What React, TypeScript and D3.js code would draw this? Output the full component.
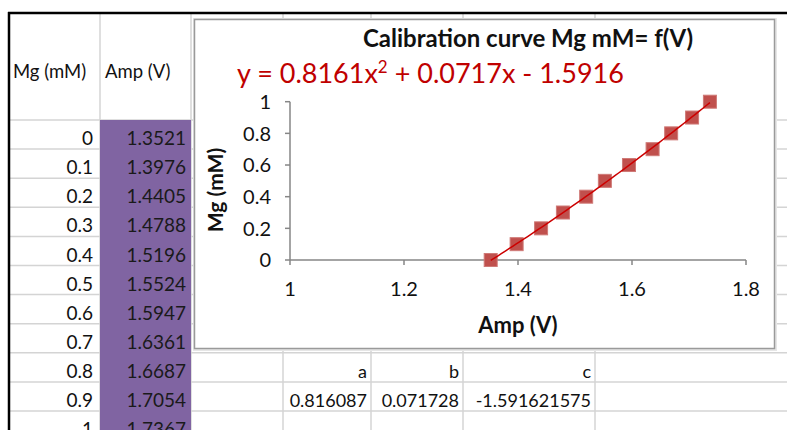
import React from 'react';
import * as d3 from 'd3';

// spreadsheet columns A/B
const mgValues = [0, 0.1, 0.2, 0.3, 0.4, 0.5, 0.6, 0.7, 0.8, 0.9, 1];
const ampValues = [1.3521, 1.3976, 1.4405, 1.4788, 1.5196, 1.5524, 1.5947, 1.6361, 1.6687, 1.7054, 1.7367];
const headers = ['Mg (mM)', 'Amp (V)'];

// fit coefficients shown below the chart
const coefNames = ['a', 'b', 'c'];
const coefTexts = ['0.816087', '0.071728', '-1.591621575'];
const coefs = [0.8161, 0.0717, -1.5916];

const xTicks = [1, 1.2, 1.4, 1.6, 1.8];
const yTicks = [0, 0.2, 0.4, 0.6, 0.8, 1];

const FONT = 'Lato, "Open Sans", sans-serif';
const W = 787, H = 430;

export default function App() {
  const x = d3.scaleLinear().domain([1, 1.8]).range([290, 746]);
  const y = d3.scaleLinear().domain([0, 1]).range([260, 101.7]);

  // grid geometry of the sheet
  const colEdges = [8, 100, 191, 283, 371, 463, 595];
  const headerBottom = 120;
  const rowH = 29.1;
  const rowTop = (i: number) => headerBottom + i * rowH;

  const fit = (v: number) => coefs[0] * v * v + coefs[1] * v + coefs[2];
  const xs = d3.range(0, 61).map((i) => ampValues[0] + (i / 60) * (ampValues[ampValues.length - 1] - ampValues[0]));
  const trend = d3.line<number>().x((d) => x(d)).y((d) => y(fit(d)))(xs) || '';

  const grid = '#d4d4d4';
  const cellFont = 19;

  return (
    <svg width={W} height={H} style={{ position: 'absolute', left: 0, top: 0, background: '#fff' }} fontFamily={FONT}>
      {/* sheet grid lines */}
      {colEdges.slice(1).map((cx) => (
        <line key={'c' + cx} x1={cx} x2={cx} y1={13} y2={H} stroke={grid} strokeWidth={1.5} />
      ))}
      {d3.range(0, 11).map((i) => (
        <line key={'r' + i} x1={8} x2={W} y1={rowTop(i)} y2={rowTop(i)} stroke={grid} strokeWidth={1.5} />
      ))}

      {/* purple column B */}
      <rect x={100} y={headerBottom} width={91} height={H - headerBottom} fill="#8064a2" />

      {/* thick borders */}
      <line x1={8} x2={W} y1={13} y2={13} stroke="#000" strokeWidth={2.5} />
      <line x1={9} x2={9} y1={12} y2={H} stroke="#000" strokeWidth={2.5} />

      {/* header cells */}
      <text x={13} y={78} fontSize={18.5} fill="#111">{headers[0]}</text>
      <text x={105} y={78} fontSize={18.5} fill="#111">{headers[1]}</text>

      {/* data cells */}
      {mgValues.map((v, i) => (
        <g key={'row' + i}>
          <text x={93} y={rowTop(i + 1) - 4} fontSize={cellFont} textAnchor="end" fill="#111">{String(v)}</text>
          <text x={186} y={rowTop(i + 1) - 4} fontSize={cellFont} textAnchor="end" fill="#1a1a1a">{ampValues[i].toFixed(4)}</text>
        </g>
      ))}

      {/* coefficient cells */}
      {coefNames.map((n, i) => (
        <text key={n} x={colEdges[i + 4] - 4} y={rowTop(9) - 4} fontSize={18} textAnchor="end" fill="#111">{n}</text>
      ))}
      {coefTexts.map((t, i) => (
        <text key={t} x={colEdges[i + 4] - 4} y={rowTop(10) - 4} fontSize={18} textAnchor="end" fill="#111">{t}</text>
      ))}

      {/* chart object */}
      <rect x={193} y={18} width={584} height={333} fill="#e6e6e6" />
      <rect x={194.5} y={19.5} width={580} height={329} fill="#fff" stroke="#9a9a9a" strokeWidth={1.5} />

      <text x={528} y={47} fontSize={24} fontWeight="bold" textAnchor="middle" fill="#111">Calibration curve Mg mM= f(V)</text>
      <text x={237} y={83} fontSize={27} fill="#c00000">
        y = 0.8161x<tspan dy={-10} fontSize={17}>2</tspan><tspan dy={10}> + 0.0717x - 1.5916</tspan>
      </text>

      {/* axes */}
      <line x1={x(1)} x2={x(1.8)} y1={y(0)} y2={y(0)} stroke="#868686" strokeWidth={1.5} />
      <line x1={x(1)} x2={x(1)} y1={y(0)} y2={y(1)} stroke="#868686" strokeWidth={1.5} />
      {xTicks.map((t) => (
        <g key={'xt' + t}>
          <line x1={x(t)} x2={x(t)} y1={y(0)} y2={y(0) + 5} stroke="#868686" strokeWidth={1.5} />
          <text x={x(t)} y={296} fontSize={20} textAnchor="middle" fill="#111">{String(t)}</text>
        </g>
      ))}
      {yTicks.map((t) => (
        <g key={'yt' + t}>
          <line x1={x(1) - 5} x2={x(1)} y1={y(t)} y2={y(t)} stroke="#868686" strokeWidth={1.5} />
          <text x={271} y={y(t)} dy="0.36em" fontSize={20} textAnchor="end" fill="#111">{String(t)}</text>
        </g>
      ))}

      <text x={518} y={333} fontSize={22} fontWeight="bold" textAnchor="middle" fill="#111">Amp (V)</text>
      <text transform="translate(223,190) rotate(-90)" fontSize={21} fontWeight="bold" textAnchor="middle" fill="#111">Mg (mM)</text>

      {/* markers */}
      {ampValues.map((a, i) => (
        <rect key={'m' + i} x={x(a) - 6.5} y={y(mgValues[i]) - 6.5} width={13} height={13} fill="#c0504d" stroke="#cf7a77" strokeWidth={1} />
      ))}
      <path d={trend} fill="none" stroke="#cc0000" strokeWidth={1.5} />
    </svg>
  );
}
